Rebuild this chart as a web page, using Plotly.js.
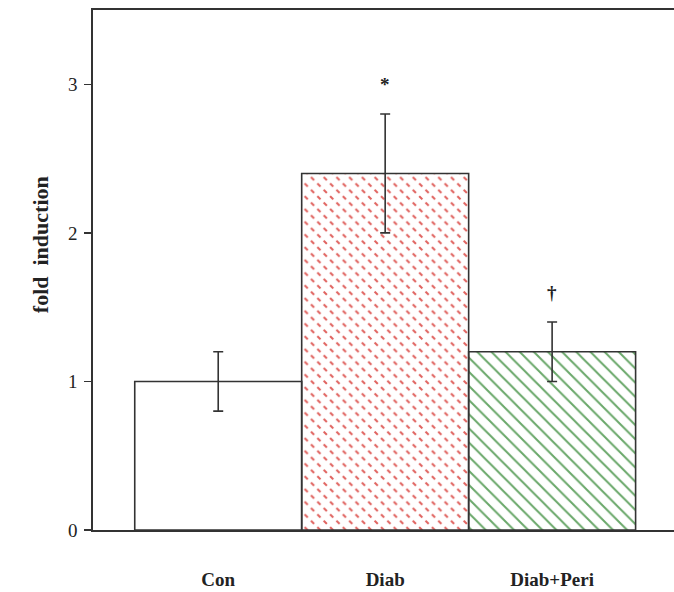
<!DOCTYPE html>
<html>
<head>
<meta charset="utf-8">
<script src="https://cdn.plot.ly/plotly-3.0.1.min.js"></script>
<style>html,body{margin:0;padding:0;background:#fff}#chart{width:674px;height:592px}</style>
</head>
<body>
<div id="chart"></div>
<script>
var categories = ['Con', 'Diab', 'Diab+Peri'];
var values = [1.0, 2.4, 1.2];
var errors = [0.2, 0.4, 0.2];
var marks = ['', '*', '\u2020'];
var yTicks = [0, 1, 2, 3];
var yTitle = 'fold  induction';

var xs = [0, 1, 2];
var lineCol = '#333333';

var patterns = [
  null,
  {shape: '\\', fgcolor: '#e0625e', bgcolor: '#ffffff', size: 9, solidity: 0.22, fillmode: 'replace'},
  {shape: '\\', fgcolor: '#6aa86a', bgcolor: '#ffffff', size: 10, solidity: 0.2, fillmode: 'replace'}
];

var traces = [];
for (var i = 0; i < categories.length; i++) {
  var m = {color: '#ffffff', line: {width: 0}};
  if (patterns[i]) m.pattern = patterns[i];
  traces.push({type: 'bar', x: [xs[i]], y: [values[i]], width: 1, marker: m, hoverinfo: 'skip', showlegend: false});
}
// white cutting lines to break the red stripes into dashes
traces.push({
  type: 'bar', x: [xs[1]], y: [values[1]], width: 1,
  marker: {
    color: 'rgba(0,0,0,0)',
    line: {width: 0},
    pattern: {shape: '/', fgcolor: '#ffffff', bgcolor: 'rgba(0,0,0,0)', size: 9, solidity: 0.5, fillmode: 'overlay', fgopacity: 1}
  },
  hoverinfo: 'skip', showlegend: false
});
traces.push({
  type: 'bar', x: xs, y: values, width: 1,
  marker: {color: 'rgba(0,0,0,0)', line: {color: lineCol, width: 1.6}},
  error_y: {type: 'data', array: errors, visible: true, color: lineCol, thickness: 1.6, width: 5},
  hoverinfo: 'skip', showlegend: false
});

var annotations = [];
for (var j = 0; j < categories.length; j++) {
  if (marks[j]) {
    annotations.push({
      x: xs[j], y: values[j] + errors[j] + 0.2, xref: 'x', yref: 'y',
      text: '<b>' + marks[j] + '</b>', showarrow: false, yanchor: 'middle',
      font: {family: 'Liberation Serif', size: 19, color: '#222'}
    });
  }
}
annotations.push({
  x: -0.091, y: 0.548, xref: 'paper', yref: 'paper', textangle: -90,
  text: '<b>' + yTitle + '</b>', showarrow: false, xanchor: 'center', yanchor: 'middle',
  font: {family: 'Liberation Serif', size: 22, color: '#222'}
});

var layout = {
  width: 674, height: 592,
  margin: {l: 93, r: 0, t: 10, b: 62},
  paper_bgcolor: '#ffffff', plot_bgcolor: '#ffffff',
  barmode: 'overlay',
  showlegend: false,
  xaxis: {
    range: [-0.75, 2.73], tickvals: xs, ticktext: categories.map(function(c){return '<b>' + c + '</b>';}),
    showgrid: false, zeroline: false, showline: true, mirror: true,
    linecolor: lineCol, linewidth: 1.6, ticks: '',
    ticklabelstandoff: 32,
    tickfont: {family: 'Liberation Serif', size: 19, color: '#222'}
  },
  yaxis: {
    range: [0, 3.5], tickvals: yTicks, ticktext: yTicks.map(String),
    showgrid: false, zeroline: false, showline: true, mirror: false,
    linecolor: lineCol, linewidth: 1.6, ticks: 'outside', ticklen: 7, tickwidth: 1.4, tickcolor: lineCol,
    ticklabelstandoff: 3,
    tickfont: {family: 'Liberation Serif', size: 19, color: '#222'}
  },
  annotations: annotations
};

Plotly.newPlot('chart', traces, layout, {displayModeBar: false, staticPlot: true});
</script>
</body>
</html>
